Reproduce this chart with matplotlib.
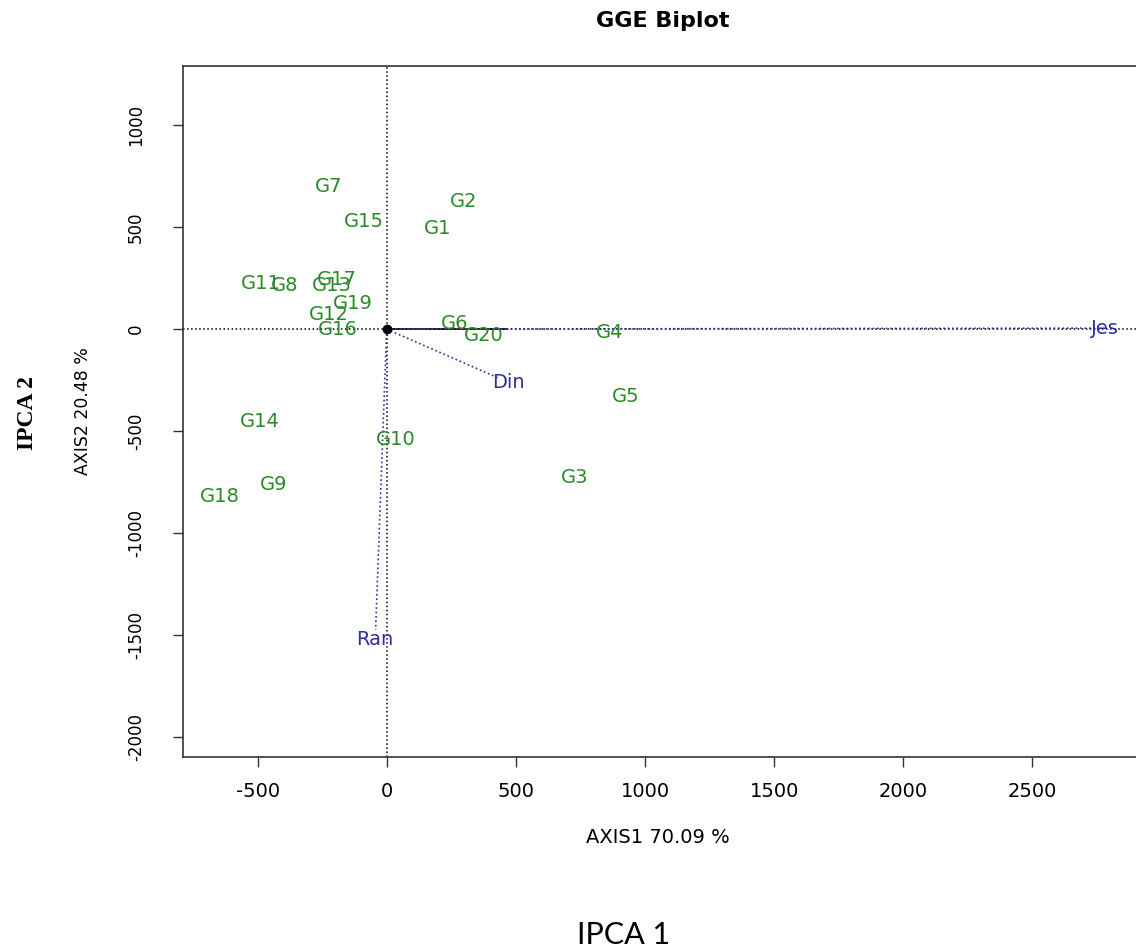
import numpy as np
import matplotlib
matplotlib.use("Agg")
import matplotlib.pyplot as plt

plt.rcParams["axes.unicode_minus"] = False

# genotype scores
genotypes = ["G1", "G2", "G3", "G4", "G5", "G6", "G7", "G8", "G9", "G10",
             "G11", "G12", "G13", "G14", "G15", "G16", "G17", "G18", "G19", "G20"]
geno_x = [196, 297, 727, 862, 925, 263, -223, -394, -437, 35,
          -486, -223, -213, -493, -87, -188, -192, -647, -131, 376]
geno_y = [491, 624, -727, -16, -328, 29, 701, 215, -760, -540,
          225, 72, 212, -454, 526, -1, 245, -820, 127, -33]

# environment vectors
environments = ["Jes", "Din", "Ran"]
env_x = [2741, 434, -43]
env_y = [5, -240, -1473]

# short solid segment along axis 1
seg_end = (465, 0)

x_ticks = [-500, 0, 500, 1000, 1500, 2000, 2500]
y_ticks = [-2000, -1500, -1000, -500, 0, 500, 1000]

green = "#2a8a2a"
blue = "#2e2ea0"

fig = plt.figure(figsize=(11.36, 9.47), dpi=100)
ax = fig.add_axes([0.1608, 0.2010, 0.8462, 0.7293])
ax.set_xlim(-790, 2932)
ax.set_ylim(-2094, 1289)

ax.axhline(0, color="black", linestyle=":", linewidth=1.1, zorder=1)
ax.axvline(0, color="black", linestyle=":", linewidth=1.1, zorder=1)

ax.plot([0, seg_end[0]], [0, seg_end[1]], color="black", linewidth=1.1, zorder=2)

for ex, ey in zip(env_x, env_y):
    ax.plot([0, ex], [0, ey], color=blue, linestyle=":", linewidth=1.2, zorder=2)

ax.plot([0], [0], marker="o", color="black", markersize=6, zorder=4)

for name, gx, gy in zip(genotypes, geno_x, geno_y):
    ax.text(gx, gy, name, color=green, fontsize=14, ha="center", va="center", zorder=3)

# environment labels sit just past the end of each vector
p0 = ax.transData.transform((0, 0))
for name, ex, ey in zip(environments, env_x, env_y):
    d = ax.transData.transform((ex, ey)) - p0
    u = d / np.hypot(*d)
    off = u * 10 * 72 / fig.dpi
    ax.annotate(name, (ex, ey), xytext=(off[0], off[1]), textcoords="offset points",
                color=blue, fontsize=14, ha="center", va="center", zorder=3)

ax.set_xticks(x_ticks)
ax.set_yticks(y_ticks)
ax.tick_params(axis="both", direction="out", length=7.2, width=1, color="#333333")
ax.tick_params(axis="x", labelsize=14, pad=11)
ax.tick_params(axis="y", labelsize=12, pad=20)
for lab in ax.get_yticklabels():
    lab.set_rotation(90)
    lab.set_va("center")
for s in ax.spines.values():
    s.set_linewidth(1.2)
    s.set_color("#333333")

fig.text(0.5836, 0.978, "GGE Biplot", fontsize=16, fontweight="bold", ha="center", va="center")
fig.text(0.579, 0.116, "AXIS1 70.09 %", fontsize=14, ha="center", va="center")
fig.text(0.073, 0.566, "AXIS2 20.48 %", fontsize=12.5, rotation=90, ha="center", va="center")
fig.text(0.024, 0.564, "IPCA 2", fontsize=17, fontweight="bold", family="Liberation Serif",
         rotation=90, ha="center", va="center")
fig.text(0.549, 0.003, "IPCA 1", fontsize=22, family="Lato", ha="center", va="baseline")

fig.savefig("out.png", dpi=100)
